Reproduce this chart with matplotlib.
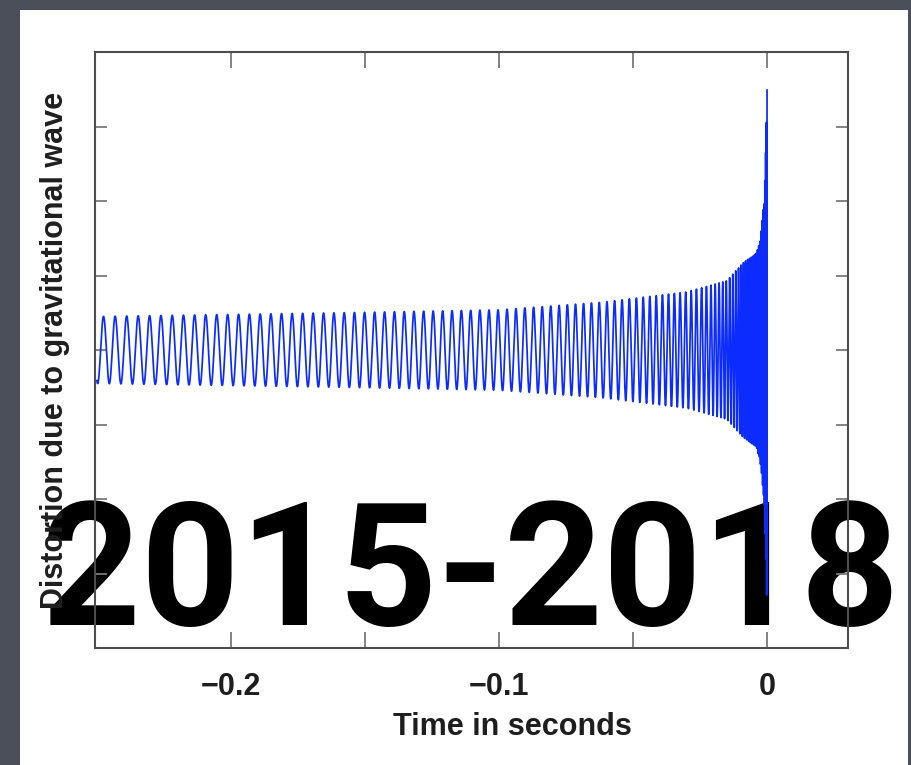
import numpy as np
import matplotlib
matplotlib.use("Agg")
import matplotlib.pyplot as plt
from matplotlib.patches import Rectangle

# ---- values ----
# envelope of the strain signal (time in s, amplitude in axis units)
env_t = [-0.25, -0.16, -0.10, -0.062, -0.03, -0.015, -0.009, -0.0041, -0.0026, -0.001, -0.0005, 0.0]
env_amp = [0.45, 0.50, 0.54, 0.64, 0.78, 0.93, 1.17, 1.30, 1.48, 2.05, 2.70, 3.49]
# local oscillation frequency read from crest spacing (Hz)
freq_t = [-0.25, -0.16, -0.09, -0.055, -0.025, -0.012, -0.006, -0.002, 0.0]
freq_hz = [229, 260, 304, 358, 520, 900, 1500, 2500, 4000]

xtick_values = [-0.2, -0.15, -0.1, -0.05, 0.0]
xtick_labels = ["\u22120.2", "", "\u22120.1", "", "0"]
ytick_values = [-3, -2, -1, 0, 1, 2, 3]
x_limits = (-0.2507, 0.0302)
y_limits = (-4, 4)

x_label = "Time in seconds"
y_label = "Distortion due to gravitational wave"
overlay_text = "2015-2018"

# ---- build waveform from the read envelope and frequency ----
t = np.arange(env_t[0], env_t[-1] + 1e-9, 1.0 / 40000)
f = np.exp(np.interp(t, freq_t, np.log(freq_hz)))
phase = 2 * np.pi * np.cumsum(f) * (t[1] - t[0])
phase += np.pi / 2 - phase[-1]
amp = np.interp(t, env_t, env_amp)
h = amp * np.sin(phase)

# ---- figure ----
W, H = 911, 765
fig = plt.figure(figsize=(W / 100, H / 100), dpi=100)
fig.patch.set_facecolor("#4a4f5a")
fig.add_artist(Rectangle((20 / W, 0), (908 - 20) / W, (H - 10) / H,
                         transform=fig.transFigure, facecolor="white",
                         edgecolor="none", zorder=-2))

ax = fig.add_axes([95 / W, 1 - 648 / H, (848 - 95) / W, (648 - 52) / H])
ax.patch.set_visible(False)
ax.plot(t, h, color="#0b2bff", lw=1.25)

ax.set_xlim(*x_limits)
ax.set_ylim(*y_limits)
ax.set_xticks(xtick_values)
ax.set_xticklabels(xtick_labels)
ax.set_yticks(ytick_values)
ax.set_yticklabels([])

for s in ax.spines.values():
    s.set_color("#4d4d4d")
    s.set_linewidth(1.5)

ax.tick_params(axis="x", direction="in", top=True, bottom=True, length=11.5,
               width=1.3, color="#7a7a7a", pad=17, labelsize=22,
               labelcolor="#1e1e1e")
ax.tick_params(axis="y", direction="in", left=True, right=True, length=8.8,
               width=1.3, color="#7a7a7a")
for lab in ax.get_xticklabels():
    lab.set_fontfamily("Liberation Sans")
    lab.set_fontweight("bold")

ax.set_xlabel(x_label, fontsize=22, fontweight="bold", family="Liberation Sans",
              color="#1e1e1e")
ax.xaxis.set_label_coords((512 - 95) / 753, (648 - 712) / 596)
ax.set_ylabel(y_label, fontsize=22, fontweight="bold", family="Liberation Sans",
              color="#1e1e1e")
ax.yaxis.set_label_coords((70 - 95) / 753, 0.5)

fig.text(471 / W, 1 - 625 / H, overlay_text, fontsize=124, fontweight="bold",
         family="Roboto", color="black", ha="center", va="baseline", zorder=-1)

fig.savefig("out.png", dpi=100, facecolor=fig.get_facecolor())
